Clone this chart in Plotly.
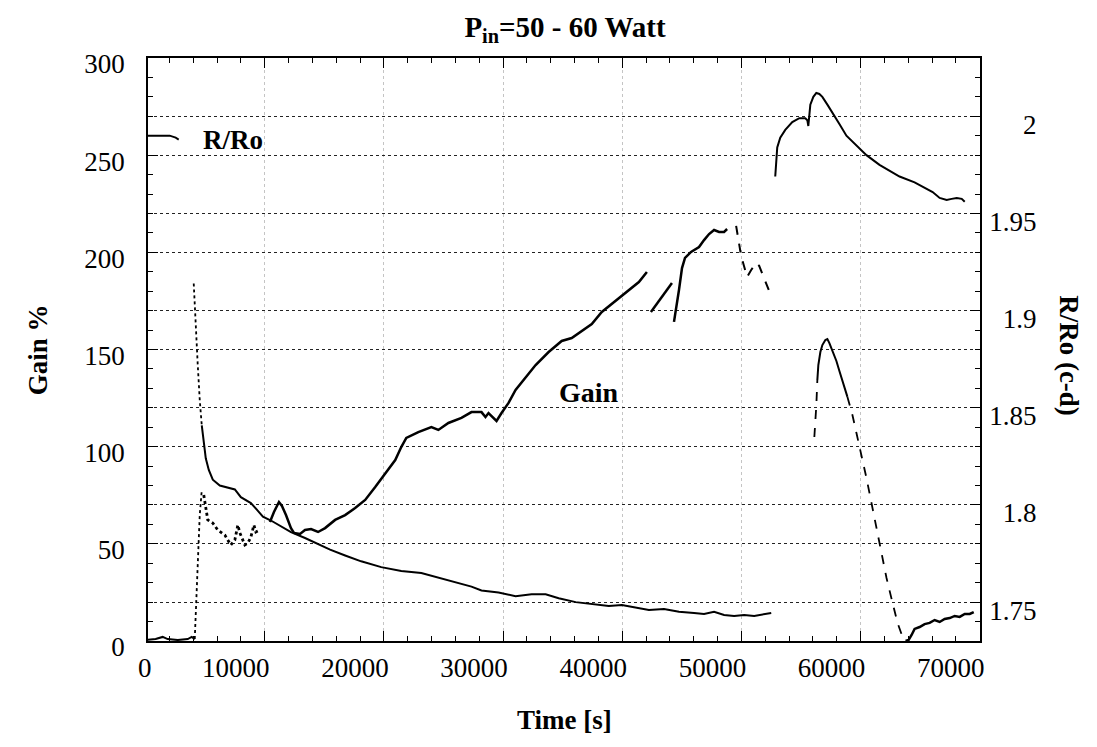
import plotly.graph_objects as go

# ---------------- data ----------------
# R/Ro, right axis
rro_start_t = [0, 1009, 2020, 2524, 2776]
rro_start_v = [1.990, 1.990, 1.990, 1.989, 1.988]

rro_drop_t = [4038, 4207, 4375, 4543, 4712]
rro_drop_v = [1.914, 1.890, 1.872, 1.854, 1.841]

rro_decay_t = [4712, 4880, 5048, 5301, 5637, 6226, 6899, 7488, 7992, 8834, 9423, 9844,
               10517, 11359, 12199, 13377, 14471, 15481, 16742, 18089, 19772, 21454,
               23137, 24315, 25998, 27344, 28185, 29615, 31046, 32392, 33570, 34664,
               36094, 37440, 38870, 39964, 41142, 42236, 43498, 44759, 46021, 46863,
               47704, 48546, 49387, 50228, 51070, 51911, 52500]
rro_decay_v = [1.841, 1.833, 1.824, 1.818, 1.813, 1.810, 1.809, 1.808, 1.804, 1.801,
               1.797, 1.794, 1.792, 1.789, 1.786, 1.783, 1.780, 1.777, 1.774, 1.771,
               1.768, 1.766, 1.765, 1.763, 1.760, 1.758, 1.756, 1.755, 1.753, 1.754,
               1.754, 1.752, 1.750, 1.749, 1.748, 1.7485, 1.747, 1.746, 1.7465, 1.745,
               1.7444, 1.7439, 1.745, 1.7434, 1.7429, 1.7434, 1.7429, 1.7439, 1.7444]

rro_late_t = [52837, 52921, 53005, 53257, 53678, 54267, 54856, 55360, 55529, 55613,
              55698, 55782, 56034, 56286, 56538, 56791, 57212, 57632, 58221, 58810,
              59483, 60492, 61587, 63270, 64532, 65373, 66046, 66635, 67224, 67644,
              68065, 68486, 68738]
rro_late_v = [1.969, 1.978, 1.984, 1.989, 1.993, 1.997, 1.999, 1.999, 1.998, 1.995,
              2.003, 2.006, 2.010, 2.012, 2.0115, 2.010, 2.006, 2.002, 1.996, 1.990,
              1.986, 1.980, 1.975, 1.969, 1.966, 1.963, 1.961, 1.958, 1.957, 1.9575,
              1.958, 1.9575, 1.956]

# Gain %, left axis
gain_base_t = [0, 842, 1431, 1851, 2692, 3534, 3870, 4123]
gain_base_v = [0.5, 1.0, 2.1, 1.0, 0.5, 1.0, 2.1, 1.0]

gain_jump_t = [4123, 4207, 4375, 4543, 4712]
gain_jump_v = [1.0, 16.0, 41.7, 64.8, 77.7]

gain_noisy_t = [4880, 5048, 5216, 5637, 6058, 6647, 7152, 7488, 7741, 7908, 8330,
                8581, 8834, 9086, 9255, 9592]
gain_noisy_v = [75.1, 67.4, 62.3, 60.7, 57.1, 54.5, 49.4, 52.0, 59.7, 55.6, 49.4,
                50.4, 53.5, 59.7, 56.1, 57.1]

gain_rise_t = [10433, 10770, 11190, 11442, 11779, 12199, 12452, 12957, 13377, 13882,
               14471, 15060, 15902, 16742, 17584, 18425, 19267, 20109, 20949, 21454,
               21875, 22885, 23978, 24567, 25409, 26503, 27344, 28185, 28521, 28774,
               29448, 29868, 30457, 31046, 31887, 32728, 33822, 34916, 35757, 36598,
               37440, 38281, 39459, 40553, 41394, 42067]
gain_rise_v = [61.2, 66.4, 71.5, 69.5, 64.8, 58.1, 55.6, 55.1, 57.1, 57.6, 56.1, 58.1,
               62.3, 64.8, 68.4, 72.6, 79.2, 86.4, 93.1, 99.8, 104.5, 107.5, 110.1,
               108.6, 112.2, 114.8, 117.8, 117.8, 115.3, 117.3, 113.2, 117.3, 122.5,
               129.2, 135.8, 142.0, 148.7, 154.4, 155.9, 159.5, 163.1, 169.3, 175.0,
               180.6, 184.7, 189.9]

gain_step_t = [42403, 42824, 43244, 43749, 44170]
gain_step_v = [169.3, 172.9, 176.5, 180.6, 184.2]

gain_peak_t = [44339, 44506, 44759, 45012, 45265, 45770, 46442, 46863, 47284, 47704,
               48125, 48546, 48798]
gain_peak_v = [164.2, 170.3, 180.6, 191.9, 197.1, 200.2, 202.7, 206.3, 209.4, 211.5,
               210.5, 210.5, 212.0]

gain_fall_t = [49555, 49724, 49976, 50313, 50481, 50817, 51238, 51490, 51742, 51995,
               52331, 52500]
gain_fall_v = [213.6, 206.3, 198.1, 190.9, 187.3, 190.9, 194.5, 193.0, 189.4, 185.2,
               180.1, 177.0]

gain_restart_t = [56118, 56202, 56286, 56371]
gain_restart_v = [105.0, 111.2, 121.4, 134.3]

gain_top_t = [56371, 56454, 56623, 56791, 57043, 57212, 57381, 57632, 57969, 58221,
              58558, 58894]
gain_top_v = [134.3, 142.0, 148.7, 152.3, 154.9, 155.4, 153.3, 149.7, 144.1, 138.9,
              132.2, 125.6]

gain_down_t = [58894, 59314, 59652, 60072, 60492, 60914, 61334, 61755, 62176, 62681,
               63101, 63521, 63774]
gain_down_v = [125.6, 116.3, 107.0, 95.7, 83.9, 71.0, 58.1, 45.3, 32.4, 19.6, 9.3,
               2.1, 0.0]

gain_tail_t = [63774, 64026, 64279, 64532, 64952, 65373, 65794, 66214, 66635, 67055,
               67477, 67897, 68317, 68738, 69159, 69495]
gain_tail_v = [0.0, 0.5, 3.1, 6.2, 7.2, 8.7, 9.3, 10.8, 9.8, 11.3, 11.8, 12.9, 12.4,
               13.9, 13.9, 14.9]

# axis ranges (the time-axis origin label is drawn separately, see below)
x_range = [200, 70020]
x_origin_label = "0"
gain_range = [0, 300]
rro_range = [1.73, 2.03]

# ---------------- figure ----------------
SERIF = "Liberation Serif, Times New Roman, serif"
FS = "\u2007"   # figure space (digit wide)
PS = "\u2008"   # punctuation space (period wide)
fig = go.Figure()


def add(t, v, axis, dash="solid", width=2.0):
    fig.add_trace(go.Scatter(
        x=t, y=v, mode="lines", yaxis=axis, showlegend=False,
        line=dict(color="black", width=width, dash=dash), hoverinfo="skip"))


# R/Ro
add(rro_start_t, rro_start_v, "y2", width=1.8)
add(rro_drop_t, rro_drop_v, "y2", dash="dot", width=1.8)
add(rro_decay_t, rro_decay_v, "y2", width=2.0)
add(rro_late_t, rro_late_v, "y2", width=2.0)

# Gain
add(gain_base_t, gain_base_v, "y", width=2.0)
add(gain_jump_t, gain_jump_v, "y", dash="dot", width=1.8)
add(gain_noisy_t, gain_noisy_v, "y", dash="dot", width=2.8)
add(gain_rise_t, gain_rise_v, "y", width=2.5)
add(gain_step_t, gain_step_v, "y", width=2.5)
add(gain_peak_t, gain_peak_v, "y", width=2.5)
add(gain_fall_t, gain_fall_v, "y", dash="dash", width=2.0)
add(gain_restart_t, gain_restart_v, "y", dash="dash", width=1.8)
add(gain_top_t, gain_top_v, "y", width=2.0)
add(gain_down_t, gain_down_v, "y", dash="dash", width=1.8)
add(gain_tail_t, gain_tail_v, "y", width=2.5)

tickfont = dict(family=SERIF, size=27, color="black")

# the page body adds an 8px offset, so the figure is 8px smaller than the window
fig.update_layout(
    width=1089, height=739,
    margin=dict(l=140, r=117, t=50, b=106),
    paper_bgcolor="white", plot_bgcolor="white",
    font=dict(family=SERIF, color="black"),
    title=dict(text="<b>P<sub>in</sub>=50 - 60 Watt</b>",
               x=0.5115, xanchor="center", y=0.975, yanchor="middle",
               font=dict(family=SERIF, size=29, color="black")),
    xaxis=dict(
        range=x_range, dtick=10000, tick0=0, tickformat="d",
        showline=True, linecolor="black", linewidth=1.5, mirror="ticks",
        ticks="inside", ticklen=10, tickwidth=1.3, tickcolor="black",
        minor=dict(dtick=2000, ticks="inside", ticklen=5, tickwidth=1.1,
                   tickcolor="black", showgrid=False),
        showgrid=True, gridcolor="#c4c4c4", griddash="dot", gridwidth=1,
        zeroline=False, tickfont=tickfont,
        ticklabelstandoff=2, ticklabelshift=-29),
    yaxis=dict(
        range=gain_range, dtick=50, tick0=0,
        showline=True, linecolor="black", linewidth=1.5,
        ticks="inside", ticklen=10, tickwidth=1.3, tickcolor="black",
        minor=dict(dtick=10, ticks="inside", ticklen=5, tickwidth=1.1,
                   tickcolor="black", showgrid=False),
        showgrid=True, gridcolor="#222222", griddash="dot", gridwidth=1,
        zeroline=False, tickfont=tickfont, ticklabelstandoff=16,
        ticklabelshift=6),
    yaxis2=dict(
        range=rro_range, dtick=0.05, tick0=0, overlaying="y", side="right",
        showline=True, linecolor="black", linewidth=1.5,
        ticks="inside", ticklen=10, tickwidth=1.3, tickcolor="black",
        minor=dict(dtick=0.01, ticks="inside", ticklen=5, tickwidth=1.1,
                   tickcolor="black", showgrid=False),
        showgrid=True, gridcolor="#222222", griddash="dot", gridwidth=1,
        zeroline=False, tickfont=tickfont, ticklabelstandoff=2,
        ticklabelshift=8,
        labelalias={"1.8": FS + "1.8", "1.9": FS + "1.9",
                    "2": PS + FS + FS + "2"}),
)

# time-axis origin label, right-aligned at the axis corner like the other labels
fig.add_annotation(text=x_origin_label, xref="paper", yref="paper", x=0, y=0,
                   xanchor="right", yanchor="middle", xshift=6, yshift=-27,
                   showarrow=False, font=tickfont)

title_font = dict(family=SERIF, size=27, color="black")
fig.add_annotation(text="<b>Gain %</b>", xref="paper", yref="paper",
                   x=-0.132, y=0.499, xanchor="center", yanchor="middle",
                   textangle=-90, showarrow=False, font=title_font)
fig.add_annotation(text="<b>Time [s]</b>", xref="paper", yref="paper",
                   x=0.501, y=-0.135, xanchor="center", yanchor="middle",
                   showarrow=False, font=title_font)
fig.add_annotation(text="<b>R/Ro (c-d)</b>", xref="paper", yref="paper",
                   x=1.106, y=0.49, xanchor="center", yanchor="middle",
                   textangle=90, showarrow=False, font=title_font)
fig.add_annotation(text="<b>R/Ro</b>", xref="x", yref="y", x=7320, y=258,
                   xanchor="center", yanchor="middle", showarrow=False,
                   font=dict(family=SERIF, size=27, color="black"))
fig.add_annotation(text="<b>Gain</b>", xref="x", yref="y", x=37190, y=128,
                   xanchor="center", yanchor="middle", showarrow=False,
                   font=dict(family=SERIF, size=28, color="black"))

fig.write_html("out.html")
